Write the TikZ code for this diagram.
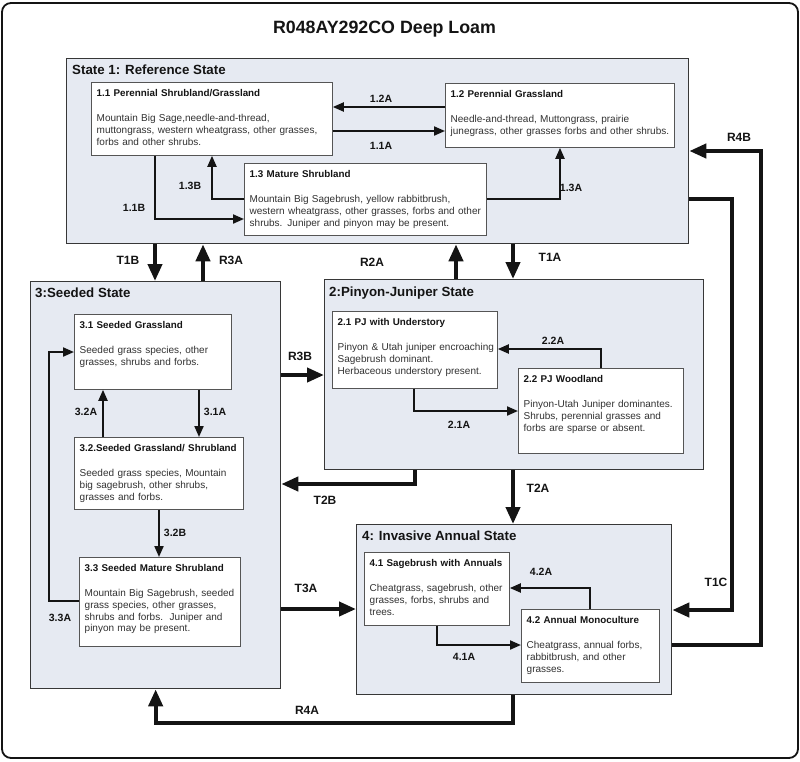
\documentclass[tikz,border=0pt]{standalone}
\usepackage{fontspec}
\setmainfont{Liberation Sans}
\usetikzlibrary{arrows.meta}

\definecolor{statefill}{RGB}{230,234,242}
\definecolor{boxline}{RGB}{85,85,85}
\definecolor{bodytext}{RGB}{50,50,50}
\definecolor{inktext}{RGB}{20,20,20}

\tikzset{
	frame/.style={draw=inktext, line width=1.8pt, rounded corners=9pt},
	state/.style={draw=inktext!85, fill=statefill, line width=1.3pt, anchor=north west, inner sep=0pt},
	statetitle/.style={anchor=north west, inner sep=0pt, text=inktext, font=\fontsize{13.3}{15}\selectfont\bfseries},
	phase/.style={draw=boxline, fill=white, line width=0.8pt, anchor=north west, inner sep=0pt},
	phasetext/.style={anchor=north west, inner sep=0pt, align=left, text=bodytext, font=\fontsize{10}{11.7}\selectfont},
	bigarr/.style={line width=4pt, draw=inktext, -{Triangle[length=17pt,width=14pt]}},
	smallarr/.style={line width=2pt, draw=inktext, -{Triangle[length=11pt,width=9pt]}},
	lab/.style={inner sep=0pt, text=inktext, font=\fontsize{10.5}{12}\selectfont\bfseries},
	biglab/.style={inner sep=0pt, text=inktext, font=\fontsize{12}{14}\selectfont\bfseries},
}

% name, x, y, width, height, title, body
\newcommand{\phasebox}[7]{
	\node[phase, minimum width=#4pt, minimum height=#5pt] (#1) at (#2,#3) {};
	\node[phasetext, text width=#4pt] (#1txt) at ([xshift=5.5pt,yshift=-7pt]#1.north west)
		{{\fontsize{9.8}{11.7}\selectfont\bfseries\color{inktext}#6}\\[13.8pt]#7};
}

\begin{document}
\begin{tikzpicture}[x=1pt,y=-1pt]
	\useasboundingbox (0,0) rectangle (800,761);
	{\draw[frame] (2,3) rectangle (798,758);}
	{\node[inner sep=0pt, text=inktext, font=\fontsize{17.8}{20}\selectfont\bfseries] (title) at (384.5,29) {R048AY292CO Deep Loam};}

	% states
	{\node[state, minimum width=622pt, minimum height=185pt] (st1) at (66,58) {};}
	{\node[state, minimum width=250pt, minimum height=407pt] (st3) at (30,281) {};}
	{\node[state, minimum width=379pt, minimum height=190pt] (st2) at (324,279) {};}
	{\node[state, minimum width=315pt, minimum height=170pt] (st4) at (356,524) {};}
	{\node[statetitle] (st1t) at ([xshift=6pt,yshift=-7pt]st1.north west) {State 1: Reference State};}
	{\node[statetitle] (st3t) at ([xshift=5pt,yshift=-7pt]st3.north west) {3:Seeded State};}
	{\node[statetitle] (st2t) at ([xshift=5pt,yshift=-8pt]st2.north west) {2:Pinyon-Juniper State};}
	{\node[statetitle] (st4t) at ([xshift=6pt,yshift=-7pt]st4.north west) {4: Invasive Annual State};}

	% phases
	\phasebox{s11}{91}{82}{241}{73}{1.1 Perennial Shrubland/Grassland}{Mountain Big Sage,needle-and-thread,\\muttongrass, western wheatgrass, other grasses,\\forbs and other shrubs.}
	\phasebox{s12}{445}{83}{229}{64}{1.2 Perennial Grassland}{Needle-and-thread, Muttongrass, prairie\\junegrass, other grasses forbs and other shrubs.}
	\phasebox{s13}{244}{163}{242}{72}{1.3 Mature Shrubland}{Mountain Big Sagebrush, yellow rabbitbrush,\\western wheatgrass, other grasses, forbs and other\\shrubs. Juniper and pinyon may be present.}
	\phasebox{s31}{74}{314}{157}{75}{3.1 Seeded Grassland}{Seeded grass species, other\\grasses, shrubs and forbs.}
	\phasebox{s32}{74}{437}{169}{72}{3.2.Seeded Grassland/ Shrubland}{Seeded grass species, Mountain\\big sagebrush, other shrubs,\\grasses and forbs.}
	\phasebox{s33}{79}{557}{161}{89}{3.3 Seeded Mature Shrubland}{Mountain Big Sagebrush, seeded\\grass species, other grasses,\\shrubs and forbs.\ \ Juniper and\\pinyon may be present.}
	\phasebox{s21}{332}{311}{165}{77}{2.1 PJ with Understory}{Pinyon \& Utah juniper encroaching\\Sagebrush dominant.\\Herbaceous understory present.}
	\phasebox{s22}{518}{368}{165}{85}{2.2 PJ Woodland}{Pinyon-Utah Juniper dominantes.\\Shrubs, perennial grasses and\\forbs are sparse or absent.}
	\phasebox{s41}{364}{552}{145}{73}{4.1 Sagebrush with Annuals}{Cheatgrass, sagebrush, other\\grasses, forbs, shrubs and\\trees.}
	\phasebox{s42}{521}{609}{138}{73}{4.2 Annual Monoculture}{Cheatgrass, annual forbs,\\rabbitbrush, and other\\grasses.}

	% bends
	\coordinate (c12a) at (0,107);
	\coordinate (c11a) at (0,131);
	\coordinate (c13b) at (212,199);
	\coordinate (c11b) at (155,219);
	\coordinate (c13a) at (560,199);
	\coordinate (c22a) at (601,349);
	\coordinate (c21a) at (414,411);
	\coordinate (c31a) at (199,0);
	\coordinate (c32a) at (103,0);
	\coordinate (c32b) at (159,0);
	\coordinate (c33a) at (49,601);
	\coordinate (c33b) at (49,352);
	\coordinate (c42a) at (590,588);
	\coordinate (c41a) at (437,645);
	\coordinate (t1b) at (155,0);
	\coordinate (r3a) at (203,0);
	\coordinate (r2a) at (456,0);
	\coordinate (t1a) at (513,0);
	\coordinate (r3b) at (0,375);
	\coordinate (t2b) at (415,484);
	\coordinate (t3a) at (0,609);
	\coordinate (r4a) at (513,723);
	\coordinate (t1c) at (732,199);
	\coordinate (t1cb) at (732,610);
	\coordinate (r4b) at (761,645);
	\coordinate (r4bt) at (761,151);

	% phase pathways
	{\draw[smallarr] (s12.west |- c12a) -- (s11.east |- c12a);}
	{\draw[smallarr] (s11.east |- c11a) -- (s12.west |- c11a);}
	{\draw[smallarr] (s13.west |- c13b) -- (c13b) -- (c13b |- s11.south);}
	{\draw[smallarr] (s11.south -| c11b) -- (c11b) -- (s13.west |- c11b);}
	{\draw[smallarr] (s13.east |- c13a) -- (c13a) -- (c13a |- s12.south);}
	{\draw[smallarr] (s22.north -| c22a) -- (c22a) -- (s21.east |- c22a);}
	{\draw[smallarr] (s21.south -| c21a) -- (c21a) -- (s22.west |- c21a);}
	{\draw[smallarr] (s31.south -| c31a) -- (s32.north -| c31a);}
	{\draw[smallarr] (s32.north -| c32a) -- (s31.south -| c32a);}
	{\draw[smallarr] (s32.south -| c32b) -- (s33.north -| c32b);}
	{\draw[smallarr] (s33.west |- c33a) -- (c33a) -- (c33b) -- (s31.west |- c33b);}
	{\draw[smallarr] (s42.north -| c42a) -- (c42a) -- (s41.east |- c42a);}
	{\draw[smallarr] (s41.south -| c41a) -- (c41a) -- (s42.west |- c41a);}

	% transitions
	{\draw[bigarr] (st1.south -| t1b) -- (st3.north -| t1b);}
	{\draw[bigarr] (st3.north -| r3a) -- (st1.south -| r3a);}
	{\draw[bigarr] (st2.north -| r2a) -- (st1.south -| r2a);}
	{\draw[bigarr] (st1.south -| t1a) -- (st2.north -| t1a);}
	{\draw[bigarr] (st3.east |- r3b) -- (st2.west |- r3b);}
	{\draw[bigarr] (st2.south -| t2b) -- (t2b) -- (st3.east |- t2b);}
	{\draw[bigarr] (st2.south -| t1a) -- (st4.north -| t1a);}
	{\draw[bigarr] (st3.east |- t3a) -- (st4.west |- t3a);}
	{\draw[bigarr] (st4.south -| r4a) -- (r4a) -| (st3.south);}
	{\draw[bigarr] (st1.east |- t1c) -- (t1c) -- (t1cb) -- (st4.east |- t1cb);}
	{\draw[bigarr] (st4.east |- r4b) -- (r4b) -- (r4bt) -- (st1.east |- r4bt);}

	% labels
	{\node[lab] (l12a) at (381,99) {1.2A};}
	{\node[lab] (l11a) at (381,146) {1.1A};}
	{\node[lab] (l13b) at (190,186) {1.3B};}
	{\node[lab] (l11b) at (134,208) {1.1B};}
	{\node[lab] (l13a) at (571,188) {1.3A};}
	{\node[lab] (l22a) at (553,341) {2.2A};}
	{\node[lab] (l21a) at (459,425) {2.1A};}
	{\node[lab] (l32a) at (86,412) {3.2A};}
	{\node[lab] (l31a) at (215,412) {3.1A};}
	{\node[lab] (l32b) at (175,533) {3.2B};}
	{\node[lab] (l33a) at (60,618) {3.3A};}
	{\node[lab] (l42a) at (541,572) {4.2A};}
	{\node[lab] (l41a) at (464,657) {4.1A};}
	{\node[biglab] (lt1b) at (128,260) {T1B};}
	{\node[biglab] (lr3a) at (231,260) {R3A};}
	{\node[biglab] (lr2a) at (372,262) {R2A};}
	{\node[biglab] (lt1a) at (550,257) {T1A};}
	{\node[biglab] (lr3b) at (300,356) {R3B};}
	{\node[biglab] (lt2b) at (325,500) {T2B};}
	{\node[biglab] (lt2a) at (538,488) {T2A};}
	{\node[biglab] (lt3a) at (306,588) {T3A};}
	{\node[biglab] (lr4a) at (307,710) {R4A};}
	{\node[biglab] (lt1c) at (716,582) {T1C};}
	{\node[biglab] (lr4b) at (739,137) {R4B};}
\end{tikzpicture}
\end{document}
